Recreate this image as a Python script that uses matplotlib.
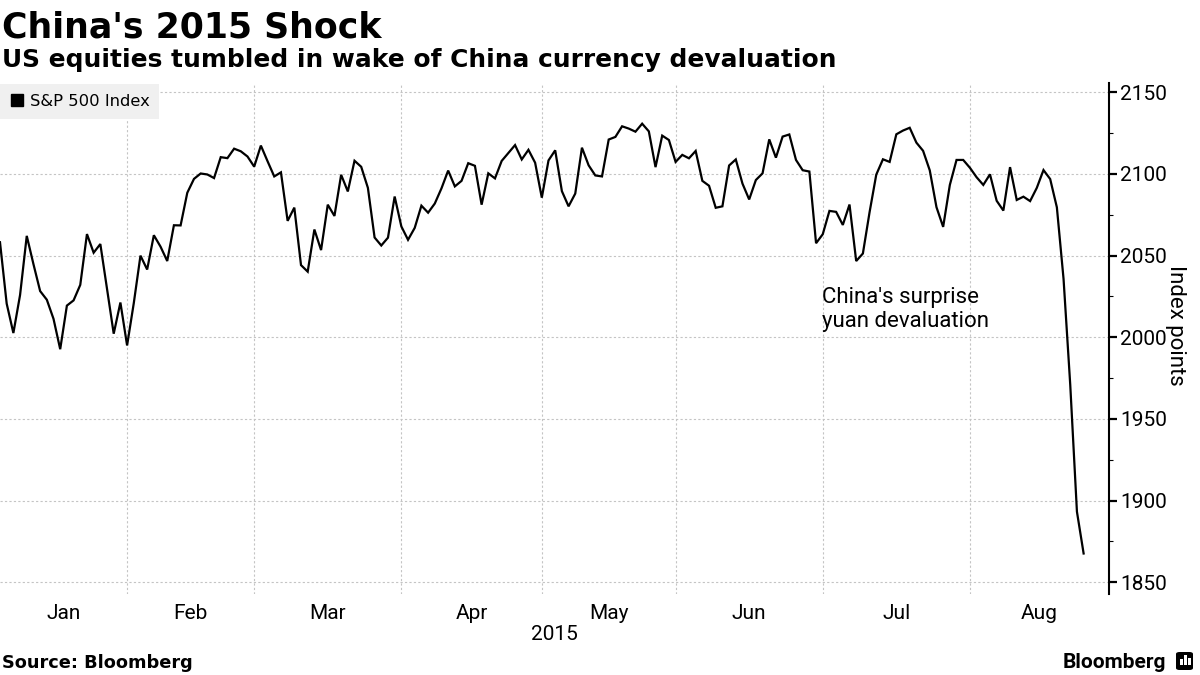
import matplotlib.pyplot as plt
import numpy as np
from matplotlib.lines import Line2D
from matplotlib.patches import FancyBboxPatch, Rectangle

plt.rcParams['font.family'] = ['Roboto', 'DejaVu Sans']

# S&P 500 daily closes, 2015, one list per month (trading days only)
months = ['Jan', 'Feb', 'Mar', 'Apr', 'May', 'Jun', 'Jul', 'Aug']
jan = [2058.2, 2020.6, 2002.6, 2025.9, 2062.1, 2044.8, 2028.3, 2023.0, 2011.3, 1992.7,
       2019.4, 2022.6, 2032.1, 2063.2, 2051.8, 2057.1, 2029.6, 2002.2, 2021.3, 1995.0]
feb = [2020.9, 2050.0, 2041.5, 2062.5, 2055.5, 2046.7, 2068.6, 2068.5, 2088.5, 2097.0,
       2100.3, 2099.7, 2097.5, 2110.3, 2109.7, 2115.5, 2113.9, 2110.7, 2104.5]
mar = [2117.4, 2107.8, 2098.5, 2101.0, 2071.3, 2079.4, 2044.2, 2040.2, 2066.0, 2053.4,
       2081.2, 2074.3, 2099.5, 2089.3, 2108.1, 2104.4, 2091.5, 2061.1, 2056.2, 2061.0,
       2086.2, 2067.9]
apr = [2059.7, 2067.0, 2080.6, 2076.3, 2081.9, 2091.2, 2102.1, 2092.4, 2095.8, 2106.6,
       2105.0, 2081.2, 2100.4, 2097.3, 2108.0, 2112.9, 2117.7, 2108.9, 2114.8, 2106.9,
       2085.5]
may = [2108.3, 2114.5, 2089.5, 2080.2, 2088.0, 2116.1, 2105.3, 2099.1, 2098.5, 2121.1,
       2122.7, 2129.2, 2127.8, 2125.9, 2130.8, 2126.1, 2104.2, 2123.5, 2120.8, 2107.4]
jun = [2111.7, 2109.6, 2114.1, 2095.8, 2092.8, 2079.3, 2080.2, 2105.2, 2108.9, 2094.1,
       2084.4, 2096.3, 2100.4, 2121.2, 2110.0, 2122.9, 2124.2, 2108.6, 2102.3, 2101.5,
       2057.6, 2063.1]
jul = [2077.4, 2076.8, 2068.8, 2081.3, 2046.7, 2051.3, 2076.6, 2099.6, 2109.0, 2107.4,
       2124.3, 2126.6, 2128.3, 2119.2, 2114.2, 2102.2, 2079.7, 2067.6, 2093.3, 2108.6,
       2108.6, 2103.8]
aug = [2098.0, 2093.3, 2099.8, 2083.6, 2077.6, 2104.2, 2084.1, 2086.1, 2083.4, 2091.5,
       2102.4, 2096.9, 2079.6, 2035.7, 1970.9, 1893.2, 1867.6]
month_data = [jan, feb, mar, apr, may, jun, jul, aug]
closes = sum(month_data, [])
y_ticks = [1850, 1900, 1950, 2000, 2050, 2100, 2150]

x = np.arange(len(closes))
sizes = [len(m) for m in month_data]
# gridlines sit on the last trading day of each month
bounds = np.cumsum(sizes)[:-1] - 1
xmax = 165.8
edges = np.concatenate([[0], bounds, [xmax]])
centers = (edges[:-1] + edges[1:]) / 2

fig = plt.figure(figsize=(12, 6.75), dpi=100)
ax = fig.add_axes([0.0, 0.12, 0.9242, 0.757])

ax.plot(x, closes, color='black', lw=1.6, solid_joinstyle='miter')

ax.set_xlim(0, xmax)
ax.set_ylim(1842.8, 2155.7)

grid_kw = dict(color='#c4c4c4', linestyle=(0, (2, 2)), linewidth=0.8)
ax.set_xticks(bounds)
ax.set_xticklabels([])
ax.set_xticks(centers, minor=True)
ax.set_xticklabels(months, minor=True)
ax.xaxis.grid(True, which='major', **grid_kw)
ax.tick_params(axis='x', which='both', length=0)
ax.tick_params(axis='x', which='minor', labelsize=15, pad=7)

ax.yaxis.tick_right()
ax.set_yticks(y_ticks)
ax.set_yticks(np.arange(1875, 2150, 50), minor=True)
ax.yaxis.grid(True, which='major', **grid_kw)
ax.tick_params(axis='y', which='major', direction='out', length=6, width=1.6,
               labelsize=15, pad=2)
ax.tick_params(axis='y', which='minor', direction='out', length=3, width=0.8)
ax.yaxis.set_label_position('right')
ax.set_ylabel('Index points', fontsize=16, rotation=270)
ax.yaxis.set_label_coords(1.069, 0.526)

ax.set_xlabel('2015', fontsize=15, labelpad=2)

for s in ['top', 'left', 'bottom']:
    ax.spines[s].set_visible(False)
ax.spines['right'].set_linewidth(1.5)
ax.set_axisbelow(True)

handle = Line2D([], [], marker='s', color='black', linestyle='none', markersize=8)
leg = ax.legend([handle], ['S&P 500 Index'], loc='upper left', bbox_to_anchor=(0, 0.998),
                borderaxespad=0, frameon=True, fancybox=False, facecolor='#f0f0f0',
                edgecolor='none', framealpha=1, handlelength=0.9, handletextpad=0.3,
                borderpad=0.6, prop={'family': 'DejaVu Sans', 'size': 11.8})

ax.text(0.741, 0.601, "China's surprise\nyuan devaluation", transform=ax.transAxes,
        fontsize=16, va='top', ha='left', linespacing=1.2)

fig.text(0.002, 1 - 37 / 675, "China's 2015 Shock", fontsize=25, fontweight='bold',
         family='DejaVu Sans', va='baseline')
fig.text(0.002, 1 - 67 / 675, 'US equities tumbled in wake of China currency devaluation',
         fontsize=17.9, fontweight='bold', family='DejaVu Sans', va='baseline')
fig.text(0.002, 1 - 668 / 675, 'Source: Bloomberg', fontsize=12.8, fontweight='bold',
         family='DejaVu Sans', va='baseline')
fig.text(1166 / 1200, 1 - 668 / 675, 'Bloomberg', fontsize=15, fontweight='bold',
         ha='right', va='baseline')

# small logo tile
fig.add_artist(FancyBboxPatch((1176 / 1200, 1 - 670 / 675), 17 / 1200, 18 / 675,
                              boxstyle='round,pad=0,rounding_size=0.003',
                              transform=fig.transFigure, facecolor='black',
                              edgecolor='none'))
for bx, bh in [(1180, 6), (1184, 10), (1188, 7)]:
    fig.add_artist(Rectangle((bx / 1200, 1 - 665 / 675), 2.5 / 1200, bh / 675,
                             transform=fig.transFigure, facecolor='white',
                             edgecolor='none'))

fig.savefig('out.png', dpi=100)
